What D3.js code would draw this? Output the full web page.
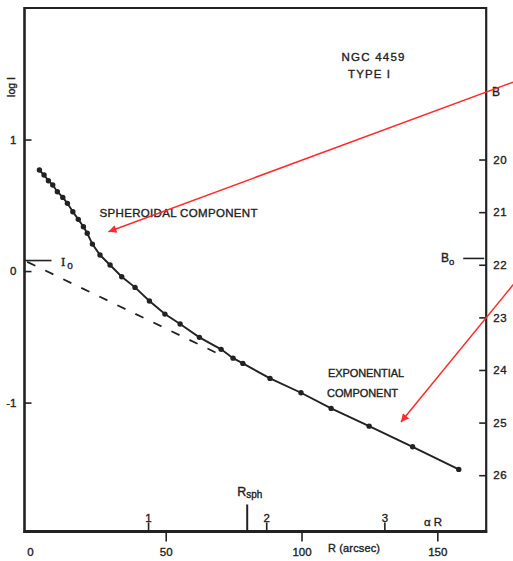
<!DOCTYPE html>
<html><head><meta charset="utf-8">
<script src="https://cdn.jsdelivr.net/npm/d3@7"></script>
<style>
html,body{margin:0;padding:0;background:#fff;}
svg{display:block;}
text{font-family:"Liberation Sans","DejaVu Sans",sans-serif;fill:#222;stroke:#222;stroke-width:0.35px;}
</style></head><body>
<svg id="chart" width="513" height="561"></svg>
<script>
// ---- data ----
const radiusArcsec = [3.5, 5.2, 6.8, 8.4, 10.1, 12.1, 13.8, 15.8, 17.8, 19.7, 21.1, 23.0, 25.8, 29.5, 33.8, 38.7, 44.0, 49.7, 55.3, 62.4, 70.4, 74.8, 78.4, 88.4, 99.8, 110.9, 124.9, 140.9, 157.9];
const logIntensity = [0.768, 0.730, 0.687, 0.654, 0.603, 0.560, 0.515, 0.451, 0.393, 0.337, 0.287, 0.205, 0.122, 0.046, -0.043, -0.124, -0.228, -0.327, -0.403, -0.504, -0.595, -0.662, -0.702, -0.816, -0.925, -1.044, -1.179, -1.336, -1.508];
const dashedR = [-1, 70];
const dashedLogI = [0.07, -0.635];
const logITicks = [1, 0, -1];
const logITickLabels = ["1", "0", "-1"];
const magTicks = [20, 21, 22, 23, 24, 25, 26];
const magZero = 22.12;          // B mag where log I = 0
const radiusTicks = [0, 50, 100, 150];
const alphaTicks = [1, 2, 3];
const scaleLength = 43.5;       // arcsec, 1/alpha
const I0 = 0.08;
const B0 = 21.88;
const Rsph = 80;
const arrowFromR = [178, 178];
const arrowFromLogI = [1.437, -0.102];
const arrowToR = [28.9, 136.6];
const arrowToLogI = [0.299, -1.148];

// ---- scales ----
const svg = d3.select("#chart");
const x = d3.scaleLinear().domain([-2, 168]).range([24.5, 486.2]);
const y = d3.scaleLinear().domain([-1.98, 2.0]).range([531.5, 8]);
const magToLogI = m => (magZero - m) / 2.5;
const magScale = d3.scaleLinear().domain([20, 26]).range([y(magToLogI(20)), y(magToLogI(26))]);
const alphaScale = d3.scaleLinear().domain([0, 3]).range([x(0), x(3 * scaleLength)]);

const ink = "#222";

// ---- frame ----
const x0 = x.range()[0], x1 = x.range()[1], yTop = y.range()[1], yBot = y.range()[0];
svg.append("line").attr("x1", x0).attr("x2", x1).attr("y1", yTop).attr("y2", yTop).attr("stroke", ink).attr("stroke-width", 2);
svg.append("line").attr("x1", x0).attr("x2", x0).attr("y1", yTop - 1).attr("y2", yBot + 1.5).attr("stroke", ink).attr("stroke-width", 2.6);
svg.append("line").attr("x1", x1).attr("x2", x1).attr("y1", yTop - 1).attr("y2", yBot + 1.5).attr("stroke", ink).attr("stroke-width", 2.2);
svg.append("line").attr("x1", x0 - 1).attr("x2", x1 + 1).attr("y1", yBot).attr("y2", yBot).attr("stroke", ink).attr("stroke-width", 3);

function styleAxis(g) {
  g.select(".domain").remove();
  g.selectAll(".tick line").attr("stroke", ink).attr("stroke-width", 1.6);
  g.selectAll(".tick text").attr("fill", ink).style("font-size", "11.5px").attr("font-family", '"Liberation Sans","DejaVu Sans",sans-serif');
}

// left axis (log I)
svg.append("g").attr("transform", `translate(${x0},0)`)
  .call(d3.axisLeft(y).tickValues(logITicks).tickSize(-7).tickPadding(8).tickFormat((d, i) => logITickLabels[i]))
  .call(styleAxis);

// right axis (B magnitude)
svg.append("g").attr("transform", `translate(${x1},0)`)
  .call(d3.axisRight(magScale).tickValues(magTicks).tickSize(-7).tickPadding(7).tickFormat(d3.format("d")))
  .call(styleAxis)
  .call(g => g.selectAll(".tick text").attr("letter-spacing", "0.6px"));

// bottom axis (R arcsec)
svg.append("g").attr("transform", `translate(0,${yBot})`)
  .call(d3.axisBottom(x).tickValues(radiusTicks).tickSize(10).tickPadding(6).tickFormat(d3.format("d")))
  .call(styleAxis)
  .call(g => g.selectAll(".tick").filter(d => d === 0).select("line").remove());

// secondary bottom axis (alpha R)
svg.append("g").attr("transform", `translate(0,${yBot})`)
  .call(d3.axisTop(alphaScale).tickValues(alphaTicks).tickSize(9).tickPadding(1).tickFormat(d3.format("d")))
  .call(styleAxis);

// R_sph marker
svg.append("line").attr("x1", x(Rsph)).attr("x2", x(Rsph)).attr("y1", yBot - 27).attr("y2", yBot)
  .attr("stroke", ink).attr("stroke-width", 2);
const rs = svg.append("text").attr("x", x(Rsph) - 10).attr("y", yBot - 36).style("font-size", "12.5px");
rs.append("tspan").text("R");
rs.append("tspan").attr("dy", 2).style("font-size", "10px").text("sph");

// axis titles
svg.append("text").attr("transform", `translate(15,87) rotate(-90)`).attr("text-anchor", "middle")
  .style("font-size", "10.5px").text("log I");
svg.append("text").attr("x", 354).attr("y", 552).attr("text-anchor", "middle").style("font-size", "11px")
  .attr("textLength", 52).text("R (arcsec)");
svg.append("text").attr("x", 433).attr("y", 526).attr("text-anchor", "middle").style("font-size", "11.5px").text("α R");
svg.append("text").attr("x", 496).attr("y", 96).attr("text-anchor", "middle").style("font-size", "12px").text("B");

// I0 marker
svg.append("line").attr("x1", x0).attr("x2", x0 + 27).attr("y1", y(I0)).attr("y2", y(I0)).attr("stroke", ink).attr("stroke-width", 1.6);
const i0 = svg.append("text").attr("x", 61).attr("y", y(I0) + 5).style("font-family", '"Liberation Serif","DejaVu Serif",serif').style("font-size", "13px");
i0.append("tspan").text("I");
i0.append("tspan").attr("dx", 2).attr("dy", 3).style("font-size", "10px").style("font-family", '"Liberation Sans",sans-serif').text("o");

// B0 marker
const yB0 = y(magToLogI(B0));
svg.append("line").attr("x1", x1 - 23).attr("x2", x1 - 2).attr("y1", yB0).attr("y2", yB0).attr("stroke", ink).attr("stroke-width", 1.6);
const b0 = svg.append("text").attr("x", 441).attr("y", yB0 + 4).style("font-size", "12px");
b0.append("tspan").text("B");
b0.append("tspan").attr("dy", 3).style("font-size", "9.5px").text("o");

// dashed exponential component
const dashedPts = dashedR.map((r, i) => [r, dashedLogI[i]]);
svg.append("path").datum(dashedPts)
  .attr("d", d3.line().x(d => x(d[0])).y(d => y(d[1])))
  .attr("fill", "none").attr("stroke", ink).attr("stroke-width", 1.8).attr("stroke-dasharray", "9,11");

// observed profile
const pts = radiusArcsec.map((r, i) => [r, logIntensity[i]]);
svg.append("path").datum(pts)
  .attr("d", d3.line().x(d => x(d[0])).y(d => y(d[1])))
  .attr("fill", "none").attr("stroke", ink).attr("stroke-width", 1.9);
svg.append("g").selectAll("circle").data(pts).join("circle")
  .attr("cx", d => x(d[0])).attr("cy", d => y(d[1])).attr("r", 2.7).attr("fill", ink);

// labels
svg.append("text").attr("x", 373).attr("y", 61).attr("text-anchor", "middle").style("font-size", "11.5px")
  .attr("textLength", 63).text("NGC 4459");
svg.append("text").attr("x", 369).attr("y", 78).attr("text-anchor", "middle").style("font-size", "11.5px")
  .attr("textLength", 42).text("TYPE I");
svg.append("text").attr("x", 99.5).attr("y", 216.5).style("font-size", "11.5px")
  .attr("textLength", 158).text("SPHEROIDAL COMPONENT");
svg.append("text").attr("x", 328).attr("y", 377).style("font-size", "11px")
  .attr("textLength", 76).text("EXPONENTIAL");
svg.append("text").attr("x", 327).attr("y", 397).style("font-size", "11px")
  .attr("textLength", 71).text("COMPONENT");

// red annotation arrows
const red = "#ff2a2a";
const defs = svg.append("defs");
defs.append("marker").attr("id", "ah").attr("viewBox", "0 0 10 10").attr("refX", 10).attr("refY", 5)
  .attr("markerWidth", 11).attr("markerHeight", 8).attr("markerUnits", "userSpaceOnUse").attr("orient", "auto")
  .append("path").attr("d", "M0,0 L10,5 L0,10 Z").attr("fill", red);
arrowFromR.forEach((r, i) => {
  svg.append("line")
    .attr("x1", x(r)).attr("y1", y(arrowFromLogI[i]))
    .attr("x2", x(arrowToR[i])).attr("y2", y(arrowToLogI[i]))
    .attr("stroke", red).attr("stroke-width", 1.5).attr("marker-end", "url(#ah)");
});
</script>
</body></html>
